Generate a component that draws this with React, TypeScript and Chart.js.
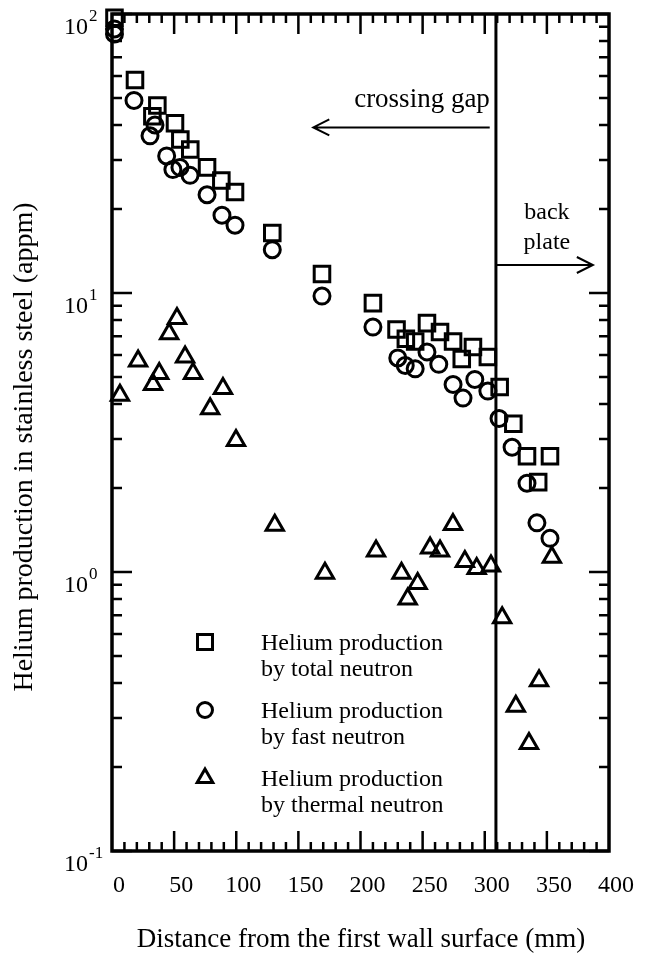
import React, { useEffect, useRef } from "react";
import { Chart, registerables } from "chart.js";
Chart.register(...registerables);

// ---- data ----
const totalX = [2, 18.5, 36.5, 32.5, 50.7, 55, 63, 76.5, 88, 99, 129, 169, 210, 229, 236.5, 244, 253.5, 264, 274.5, 281.5, 290.5, 302.5, 312, 323, 334, 343, 352.5];
const totalY = [97, 58, 47, 43, 40.6, 35.5, 32.7, 28.2, 25.3, 23, 16.4, 11.7, 9.2, 7.4, 6.85, 6.7, 7.8, 7.25, 6.7, 5.8, 6.4, 5.9, 4.6, 3.4, 2.6, 2.1, 2.6];

const fastX = [2, 2, 17.7, 34.6, 30.6, 44, 49, 54.7, 62.8, 76.5, 88.5, 99, 129, 169, 210, 230, 236, 244, 253.5, 263, 274.5, 282.5, 292, 302.5, 311.5, 322, 334, 342, 352.5];
const fastY = [88.4, 84.8, 49, 40, 36.6, 31, 27.7, 28.2, 26.4, 22.5, 19, 17.5, 14.3, 9.75, 7.55, 5.85, 5.5, 5.35, 6.15, 5.55, 4.7, 4.2, 4.9, 4.45, 3.55, 2.8, 2.08, 1.5, 1.32];

const thermalX = [6.4, 21, 33, 38, 46, 52.3, 58.8, 65.2, 79, 89.3, 99.8, 131, 171.4, 212.5, 233, 238, 246, 256, 264, 274.4, 284, 293.5, 305, 314, 325, 335.6, 343.7, 354];
const thermalY = [4.3, 5.7, 4.7, 5.15, 7.15, 8.1, 5.9, 5.15, 3.85, 4.55, 2.96, 1.47, 0.99, 1.19, 0.99, 0.8, 0.91, 1.22, 1.19, 1.48, 1.09, 1.03, 1.05, 0.685, 0.33, 0.243, 0.408, 1.13];

const xTickValues = [0, 50, 100, 150, 200, 250, 300, 350, 400];
const yTickExponents = [-1, 0, 1, 2];

const seriesLabels = [
  ["Helium production", "by total neutron"],
  ["Helium production", "by fast neutron"],
  ["Helium production", "by thermal neutron"],
];

const xTitle = "Distance from the first wall surface (mm)";
const yTitle = "Helium production in stainless steel (appm)";
const gapLabel = "crossing gap";
const backLabel = ["back", "plate"];
const boundaryX = 309;

const FONT = '"Liberation Serif", "Times New Roman", serif';

function pts(xs: number[], ys: number[]) {
  return xs.map((x, i) => ({ x, y: ys[i] }));
}

function drawMarker(ctx: CanvasRenderingContext2D, kind: string, x: number, y: number) {
  ctx.save();
  ctx.strokeStyle = "#000";
  ctx.lineWidth = 3;
  ctx.beginPath();
  if (kind === "rect") {
    ctx.rect(x - 7.5, y - 7.5, 15, 15);
  } else if (kind === "circle") {
    ctx.arc(x, y, 7.5, 0, Math.PI * 2);
  } else {
    const r = 9;
    ctx.moveTo(x, y - r);
    ctx.lineTo(x + r * 0.866, y + r / 2);
    ctx.lineTo(x - r * 0.866, y + r / 2);
    ctx.closePath();
  }
  ctx.stroke();
  ctx.restore();
}

function arrow(ctx: CanvasRenderingContext2D, x1: number, x2: number, y: number) {
  const dir = x2 > x1 ? 1 : -1;
  ctx.save();
  ctx.strokeStyle = "#000";
  ctx.lineWidth = 2;
  ctx.beginPath();
  ctx.moveTo(x1, y);
  ctx.lineTo(x2, y);
  ctx.moveTo(x2 - dir * 16, y - 8);
  ctx.lineTo(x2, y);
  ctx.lineTo(x2 - dir * 16, y + 8);
  ctx.stroke();
  ctx.restore();
}

const decorPlugin = {
  id: "decor",
  afterDatasetsDraw(chart: any) {
    const ctx: CanvasRenderingContext2D = chart.ctx;
    const { left, right, top, bottom } = chart.chartArea;
    const xs = chart.scales.x;
    const ys = chart.scales.y;
    ctx.save();
    ctx.strokeStyle = "#000";
    ctx.fillStyle = "#000";

    // frame
    ctx.lineWidth = 3.5;
    ctx.strokeRect(left, top, right - left, bottom - top);

    // x ticks (inside, top and bottom)
    ctx.lineWidth = 2.5;
    ctx.beginPath();
    for (let v = 10; v < 400; v += 10) {
      const px = xs.getPixelForValue(v);
      const len = v % 50 === 0 ? 20 : 9;
      ctx.moveTo(px, bottom);
      ctx.lineTo(px, bottom - len);
      ctx.moveTo(px, top);
      ctx.lineTo(px, top + len);
    }
    // y ticks (inside, left and right)
    for (const e of yTickExponents) {
      for (let m = 1; m <= 9; m++) {
        const val = m * Math.pow(10, e);
        if (val > 100.0001) continue;
        const py = ys.getPixelForValue(val);
        const len = m === 1 ? 20 : 10;
        ctx.moveTo(left, py);
        ctx.lineTo(left + len, py);
        ctx.moveTo(right, py);
        ctx.lineTo(right - len, py);
      }
    }
    ctx.stroke();

    // boundary line
    ctx.lineWidth = 3;
    ctx.beginPath();
    const bx = xs.getPixelForValue(boundaryX);
    ctx.moveTo(bx, top);
    ctx.lineTo(bx, bottom);
    ctx.stroke();

    // x tick labels
    ctx.font = `24px ${FONT}`;
    ctx.textAlign = "center";
    ctx.textBaseline = "middle";
    for (const v of xTickValues) {
      ctx.fillText(String(v), xs.getPixelForValue(v) + 7, bottom + 35);
    }

    // y tick labels 10^n
    for (const e of yTickExponents) {
      const py = ys.getPixelForValue(Math.pow(10, e));
      ctx.font = `24px ${FONT}`;
      ctx.textAlign = "right";
      ctx.textBaseline = "alphabetic";
      ctx.fillText("10", 88, py + 20);
      ctx.font = `17px ${FONT}`;
      ctx.textAlign = "left";
      ctx.fillText(String(e), 89, py + 7);
    }

    // axis titles
    ctx.font = `27px ${FONT}`;
    ctx.textAlign = "center";
    ctx.textBaseline = "middle";
    ctx.fillText(xTitle, 361, 940);
    ctx.save();
    ctx.font = `28px ${FONT}`;
    ctx.translate(25, 447);
    ctx.rotate(-Math.PI / 2);
    ctx.fillText(yTitle, 0, 0);
    ctx.restore();

    // annotations
    const a1y = ys.getPixelForValue(39.2);
    arrow(ctx, xs.getPixelForValue(304), xs.getPixelForValue(162), a1y);
    ctx.font = `27px ${FONT}`;
    ctx.fillText(gapLabel, xs.getPixelForValue(249.5), ys.getPixelForValue(49.3));
    const a2y = ys.getPixelForValue(12.6);
    arrow(ctx, bx, xs.getPixelForValue(387), a2y);
    ctx.font = `24px ${FONT}`;
    ctx.fillText(backLabel[0], xs.getPixelForValue(350), ys.getPixelForValue(19.4));
    ctx.fillText(backLabel[1], xs.getPixelForValue(350), ys.getPixelForValue(15.2));

    // legend
    const kinds = ["rect", "circle", "triangle"];
    const rowY = [642, 710, 778];
    ctx.textAlign = "left";
    ctx.font = `24px ${FONT}`;
    for (let i = 0; i < 3; i++) {
      drawMarker(ctx, kinds[i], 205, rowY[i]);
      ctx.fillText(seriesLabels[i][0], 261, rowY[i] + 2);
      ctx.fillText(seriesLabels[i][1], 261, rowY[i] + 28);
    }
    ctx.restore();
  },
};

export default function App() {
  const ref = useRef<HTMLCanvasElement | null>(null);
  useEffect(() => {
    if (!ref.current) return;
    const common = {
      borderColor: "#000",
      backgroundColor: "rgba(0,0,0,0)",
      borderWidth: 3,
      clip: false as any,
    };
    const chart = new Chart(ref.current, {
      type: "scatter",
      data: {
        datasets: [
          { ...common, label: "total", data: pts(totalX, totalY), pointStyle: "rect", pointRadius: 11 },
          { ...common, label: "fast", data: pts(fastX, fastY), pointStyle: "circle", pointRadius: 8 },
          { ...common, label: "thermal", data: pts(thermalX, thermalY), pointStyle: "triangle", pointRadius: 10 },
        ],
      },
      options: {
        animation: false,
        responsive: false,
        devicePixelRatio: 1,
        layout: { padding: { left: 112, right: 44, top: 11, bottom: 110 } },
        scales: {
          x: { type: "linear", min: 0, max: 400, display: false },
          y: { type: "logarithmic", min: 0.1, max: 100, display: false },
        },
        plugins: { legend: { display: false }, tooltip: { enabled: false } },
      },
      plugins: [decorPlugin],
    });
    return () => chart.destroy();
  }, []);
  return (
    <div style={{ position: "absolute", left: 0, top: 0, width: 653, height: 961, background: "#fff" }}>
      <canvas ref={ref} width={653} height={961} style={{ display: "block" }} />
    </div>
  );
}
